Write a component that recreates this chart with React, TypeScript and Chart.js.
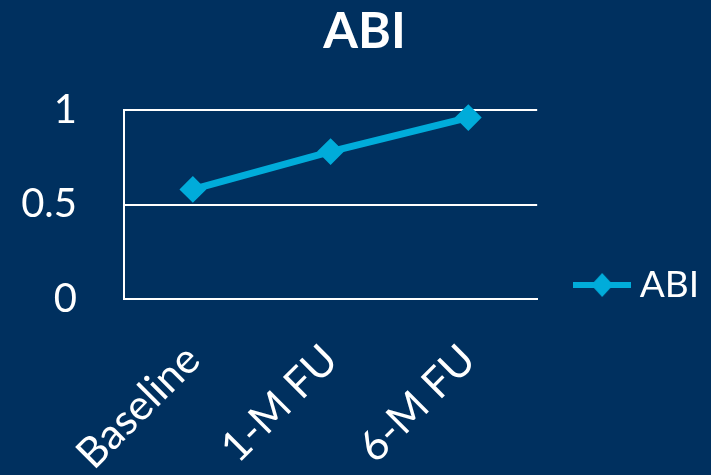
import { useEffect, useRef } from 'react';
import { Chart, registerables } from 'chart.js';

Chart.register(...registerables);

const categories = ['Baseline', '1-M FU', '6-M FU'];
const abiValues = [0.58, 0.78, 0.96];
const yTickValues = [0, 0.5, 1];
const seriesName = 'ABI';
const titleText = 'ABI';

const BG = '#00305F';
const LINE = '#00ACDA';
const FONT = 'Lato, "Open Sans", sans-serif';
const LEGEND_CY = 285;

function makeLegendMarker(): HTMLCanvasElement {
  const c = document.createElement('canvas');
  c.width = 58;
  c.height = 26;
  const ctx = c.getContext('2d')!;
  ctx.strokeStyle = LINE;
  ctx.lineWidth = 6;
  ctx.beginPath();
  ctx.moveTo(0, 13);
  ctx.lineTo(58, 13);
  ctx.stroke();
  ctx.fillStyle = LINE;
  ctx.beginPath();
  ctx.moveTo(18, 13);
  ctx.lineTo(29, 1);
  ctx.lineTo(40, 13);
  ctx.lineTo(29, 25);
  ctx.closePath();
  ctx.fill();
  return c;
}

const bgPlugin = {
  id: 'bgFill',
  beforeDraw(chart: any) {
    const { ctx, width, height } = chart;
    ctx.save();
    ctx.fillStyle = BG;
    ctx.fillRect(0, 0, width, height);
    ctx.restore();
  },
};

const legendPlacer = {
  id: 'legendPlacer',
  afterLayout(chart: any) {
    const lg = chart.legend;
    if (!lg) return;
    lg.top = LEGEND_CY - 60;
    lg.bottom = LEGEND_CY + 60;
    lg.height = 120;
  },
};

export default function App() {
  const ref = useRef<HTMLCanvasElement>(null);

  useEffect(() => {
    const marker = makeLegendMarker();
    const chart = new Chart(ref.current!, {
      type: 'line',
      data: {
        labels: categories,
        datasets: [
          {
            label: seriesName,
            data: abiValues,
            borderColor: LINE,
            backgroundColor: LINE,
            borderWidth: 7,
            pointStyle: 'rectRot',
            pointRadius: 12,
            pointHoverRadius: 12,
            pointBorderWidth: 2,
            pointBackgroundColor: LINE,
            pointBorderColor: LINE,
            tension: 0,
            clip: false as any,
          },
        ],
      },
      options: {
        responsive: false,
        animation: false,
        layout: { padding: { left: 20, right: 2, top: 0, bottom: 0 } },
        plugins: {
          title: {
            display: true,
            text: titleText,
            color: '#ffffff',
            font: { family: FONT, size: 50, weight: 'bold' },
            padding: { top: 2, bottom: 48 },
          },
          legend: {
            position: 'right',
            align: 'center',
            labels: {
              color: '#ffffff',
              font: { family: FONT, size: 37 },
              usePointStyle: true,
              pointStyle: marker as any,
              pointStyleWidth: 38,
              padding: 46,
            },
          },
          tooltip: { enabled: false },
        },
        scales: {
          x: {
            offset: true,
            grid: { display: false, drawTicks: false },
            border: { display: true, color: '#ffffff', width: 2 },
            ticks: {
              color: '#ffffff',
              font: { family: FONT, size: 42 },
              minRotation: 45,
              maxRotation: 45,
              autoSkip: false,
              padding: 36,
              labelOffset: 0,
            },
            afterFit: (s: any) => {
              s.height = 176;
            },
          },
          y: {
            min: 0,
            max: 1,
            afterBuildTicks: (s: any) => {
              s.ticks = yTickValues.map((v) => ({ value: v }));
            },
            ticks: {
              color: '#ffffff',
              font: { family: FONT, size: 40 },
              padding: 47,
              callback: (v: any) => String(v),
            },
            grid: { color: '#ffffff', lineWidth: 2, drawTicks: false },
            border: { display: true, color: '#ffffff', width: 2 },
            afterFit: (s: any) => {
              s.width = 104;
            },
          },
        },
      },
      plugins: [bgPlugin, legendPlacer],
    });
    return () => chart.destroy();
  }, []);

  return (
    <div style={{ position: 'fixed', left: 0, top: 0, width: 711, height: 475, background: BG }}>
      <canvas ref={ref} width={711} height={475} style={{ display: 'block' }} />
    </div>
  );
}
